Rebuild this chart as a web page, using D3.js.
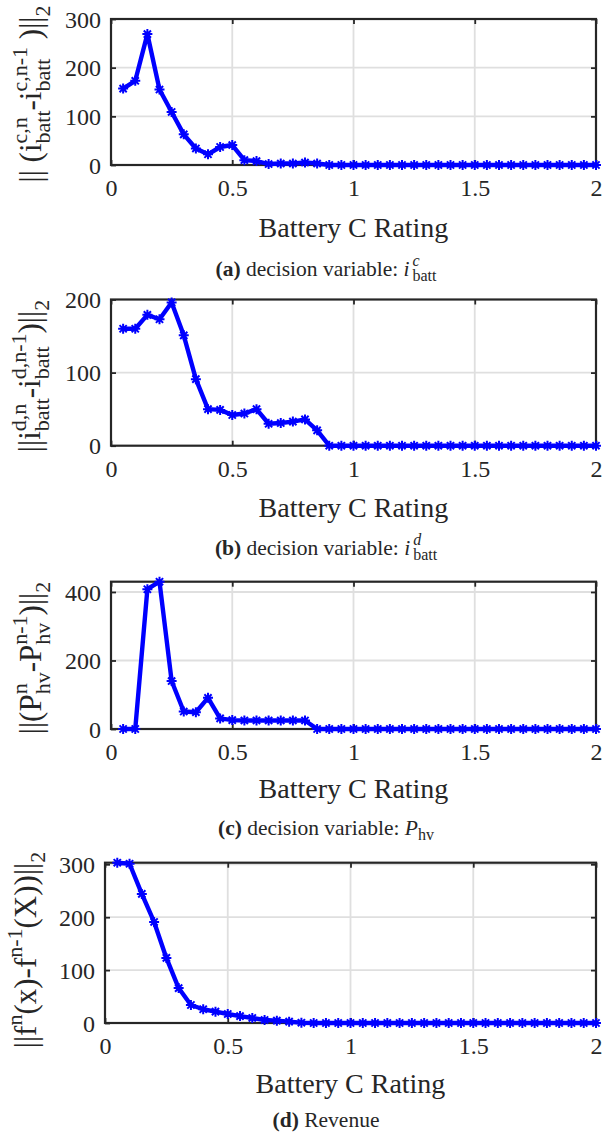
<!DOCTYPE html>
<html><head><meta charset="utf-8">
<script src="https://cdn.jsdelivr.net/npm/d3@7"></script>
<style>body{margin:0;background:#fff} svg{display:block} text{font-family:"Liberation Serif","Times New Roman",Times,serif;white-space:pre;fill:#262626}</style>
</head><body>
<svg id="c" width="602" height="1133"></svg>
<script>
// ---- data ----
const cRating = [0.05,0.10,0.15,0.20,0.25,0.30,0.35,0.40,0.45,0.50,0.55,0.60,0.65,0.70,0.75,0.80,0.85,0.90,0.95,1.00,
                 1.05,1.10,1.15,1.20,1.25,1.30,1.35,1.40,1.45,1.50,1.55,1.60,1.65,1.70,1.75,1.80,1.85,1.90,1.95,2.00];
const normIc  = [157,173,269,155,109,63,34,22,37,41,10,8,2,3,3,5,3,0,0,0, 0,0,0,0,0,0,0,0,0,0, 0,0,0,0,0,0,0,0,0,0];
const normId  = [160,160,179,173,196,151,91,50,49,42,44,50,30,31,33,36,21,0,0,0, 0,0,0,0,0,0,0,0,0,0, 0,0,0,0,0,0,0,0,0,0];
const normPhv = [0,0,408,430,140,51,49,91,31,26,25,25,25,25,25,25,0,0,0,0, 0,0,0,0,0,0,0,0,0,0, 0,0,0,0,0,0,0,0,0,0];
const normRev = [303,301,244,191,123,66,34,26,21.5,17,13,9.5,5.7,4.4,2.5,0.6,0,0,0,0, 0,0,0,0,0,0,0,0,0,0, 0,0,0,0,0,0,0,0,0,0];
const xTicks = [0,0.5,1,1.5,2];
const xTickLabels = ["0","0.5","1","1.5","2"];
const yTicksA = [0,100,200,300];
const yTicksB = [0,100,200];
const yTicksC = [0,200,400];
const yTicksD = [0,100,200,300];
const xLabel = "Battery C Rating";

const svg = d3.select("#c");

// Lays out text with stacked super/subscripts; one <text> per stacked pair.
function richText(g, segs, F, S, supDy, subDy) {
  let cur = 0;
  segs.forEach(seg => {
    if (seg.n !== undefined) {
      const t = g.append("text").attr("x", cur).attr("y", 0).style("font-size", F + "px").text(seg.n);
      if (seg.b) t.style("font-weight", "bold");
      if (seg.i) t.style("font-style", "italic");
      cur += t.node().getComputedTextLength() + (seg.ic || 0);
    } else {
      const t = g.append("text").attr("x", cur).attr("y", 0).style("font-size", S + "px");
      let w = 0;
      if (seg.sub !== undefined) {
        const s = t.append("tspan").attr("x", cur).attr("y", subDy).text(seg.sub);
        w = Math.max(w, s.node().getComputedTextLength());
      }
      if (seg.sup !== undefined) {
        const s = t.append("tspan").attr("x", cur).attr("y", supDy).text(seg.sup);
        if (seg.supi) s.style("font-style", "italic");
        w = Math.max(w, s.node().getComputedTextLength());
      }
      cur += w;
    }
  });
  const shift = cur / 2;
  g.selectAll("text, tspan").filter(function() { return this.hasAttribute("x"); })
    .attr("x", function() { return +this.getAttribute("x") - shift; });
}

const asterisk = (() => { const s = 5, a = 3.6;
  return `M${-s},0L${s},0M0,${-s}L0,${s}M${-a},${-a}L${a},${a}M${-a},${a}L${a},${-a}`; })();

function panel(cfg) {
  const x = d3.scaleLinear().domain([0, 2]).range([cfg.left, cfg.right]);
  const y = d3.scaleLinear().domain([0, cfg.ymax]).range([cfg.bottom, cfg.top]);
  const g = svg.append("g");
  // grid
  g.append("g").selectAll("line").data(xTicks.slice(1, -1)).join("line")
    .attr("x1", d => x(d)).attr("x2", d => x(d)).attr("y1", cfg.top).attr("y2", cfg.bottom)
    .attr("stroke", "#dfdfdf").attr("stroke-width", 1.8);
  g.append("g").selectAll("line").data(cfg.yTicks.filter(d => d > 0 && d < cfg.ymax)).join("line")
    .attr("x1", cfg.left).attr("x2", cfg.right).attr("y1", d => y(d)).attr("y2", d => y(d))
    .attr("stroke", "#dfdfdf").attr("stroke-width", 1.8);
  // axes (ticks inward, box)
  const ax = g.append("g").attr("transform", `translate(0,${cfg.bottom})`)
    .call(d3.axisBottom(x).tickValues(xTicks).tickFormat((d, i) => xTickLabels[i]).tickSizeInner(-5).tickSizeOuter(0).tickPadding(9));
  const axT = g.append("g").attr("transform", `translate(0,${cfg.top})`)
    .call(d3.axisTop(x).tickValues(xTicks).tickFormat("").tickSizeInner(-5).tickSizeOuter(0));
  const ay = g.append("g").attr("transform", `translate(${cfg.left},0)`)
    .call(d3.axisLeft(y).tickValues(cfg.yTicks).tickSizeInner(-5).tickSizeOuter(0).tickPadding(10));
  const ayR = g.append("g").attr("transform", `translate(${cfg.right},0)`)
    .call(d3.axisRight(y).tickValues(cfg.yTicks).tickFormat("").tickSizeInner(-5).tickSizeOuter(0));
  [ax, axT, ay, ayR].forEach(a => {
    a.attr("font-family", null).attr("font-size", null);
    a.select(".domain").remove();
    a.selectAll("line").attr("stroke", "#262626").attr("stroke-width", 1.8);
    a.selectAll("text").style("font-size", "24px").attr("fill", "#262626");
  });
  ax.selectAll("text").attr("dy", null).attr("y", 31);
  ay.selectAll("text").attr("dy", "0.34em");
  g.append("rect").attr("x", cfg.left).attr("y", cfg.top).attr("width", cfg.right - cfg.left).attr("height", cfg.bottom - cfg.top)
    .attr("fill", "none").attr("stroke", "#262626").attr("stroke-width", 2.2);
  // series
  const pts = cRating.map((c, i) => [c, cfg.data[i]]);
  g.append("path").datum(pts)
    .attr("d", d3.line().x(d => x(d[0])).y(d => y(d[1])))
    .attr("fill", "none").attr("stroke", "#0000ff").attr("stroke-width", 4.4).attr("stroke-linejoin", "round");
  g.append("g").selectAll("path").data(pts).join("path")
    .attr("transform", d => `translate(${x(d[0])},${y(d[1])})`)
    .attr("d", asterisk).attr("stroke", "#0000ff").attr("stroke-width", 2).attr("fill", "none");
  // x label
  g.append("text").attr("x", (cfg.left + cfg.right) / 2).attr("y", cfg.bottom + cfg.xlabDy)
    .attr("text-anchor", "middle").style("font-size", "28px").text(xLabel);
  // y label
  const yl = g.append("g").attr("transform", `translate(${cfg.ylabX},${cfg.ylabY}) rotate(-90)`);
  richText(yl, cfg.ylabel, 31, 22, -14, 9);
  // caption
  const cp = g.append("g").attr("transform", `translate(326,${cfg.bottom + cfg.capDy})`);
  richText(cp, cfg.caption, 21.5, 16, -10, 5);
}

panel({top: 19, bottom: 165, left: 111, right: 596, ymax: 300, yTicks: yTicksA, data: normIc,
  xlabDy: 72, capDy: 111, ylabX: 41, ylabY: 94,
  ylabel: [{n: "|| (i"}, {sup: "c,n", sub: "batt"}, {n: "-i"}, {sup: "c,n-1", sub: "batt"}, {n: " )||"}, {sub: "2"}],
  caption: [{n: "(a)", b: true}, {n: " decision variable: "}, {n: "i", i: true, ic: 3}, {sup: "c", supi: true, sub: "batt"}]});

panel({top: 299.5, bottom: 445.7, left: 111, right: 596, ymax: 200, yTicks: yTicksB, data: normId,
  xlabDy: 71, capDy: 109, ylabX: 40, ylabY: 376,
  ylabel: [{n: "||i"}, {sup: "d,n", sub: "batt"}, {n: "-i"}, {sup: "d,n-1", sub: "batt"}, {n: ")||"}, {sub: "2"}],
  caption: [{n: "(b)", b: true}, {n: " decision variable: "}, {n: "i", i: true, ic: 3}, {sup: "d", supi: true, sub: "batt"}]});

panel({top: 581.7, bottom: 729, left: 111, right: 596, ymax: 430, yTicks: yTicksC, data: normPhv,
  xlabDy: 69, capDy: 106, ylabX: 41, ylabY: 658,
  ylabel: [{n: "||(P"}, {sup: "n", sub: "hv"}, {n: "-P"}, {sup: "n-1", sub: "hv"}, {n: ")||"}, {sub: "2"}],
  caption: [{n: "(c)", b: true}, {n: " decision variable: "}, {n: "P", i: true, ic: 0}, {sub: "hv"}]});

panel({top: 862.7, bottom: 1023, left: 105, right: 596, ymax: 303, yTicks: yTicksD, data: normRev,
  xlabDy: 70, capDy: 104, ylabX: 36, ylabY: 950,
  ylabel: [{n: "||f"}, {sup: "n"}, {n: "(x)-f"}, {sup: "n-1"}, {n: "(X))||"}, {sub: "2"}],
  caption: [{n: "(d)", b: true}, {n: " Revenue"}]});
</script>
</body></html>
